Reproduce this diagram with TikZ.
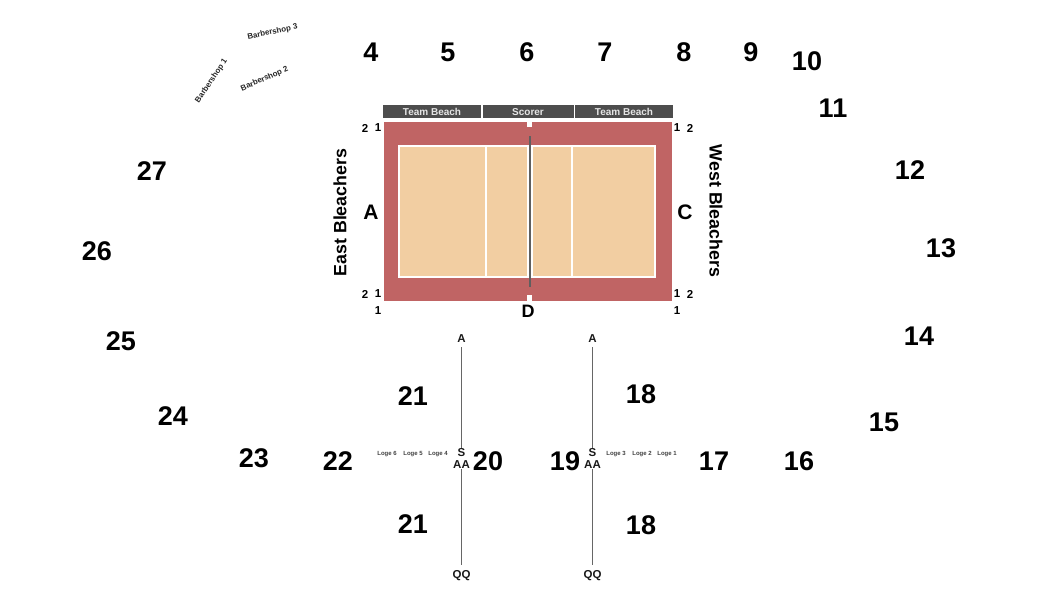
\documentclass[tikz,border=0pt]{standalone}
\usepackage{fontspec}
\setmainfont{Liberation Sans}
\usepackage{tikz}
\definecolor{courtred}{RGB}{192,100,100}
\definecolor{sandfill}{RGB}{242,206,162}
\definecolor{barfill}{RGB}{77,77,77}
\definecolor{netgray}{RGB}{95,95,95}
\tikzset{
  sec/.style={inner sep=0pt,font=\fontsize{27}{27}\bfseries},
  side/.style={inner sep=0pt,font=\fontsize{21}{21}\bfseries},
  row/.style={inner sep=0pt,font=\fontsize{11.5}{12}\bfseries},
  seat/.style={inner sep=0pt,font=\fontsize{11.5}{12}\bfseries,text=black!90},
  loge/.style={inner sep=0pt,font=\fontsize{6}{7}\bfseries,text=black!75},
  shop/.style={inner sep=0pt,font=\fontsize{7.9}{9}\bfseries,text=black!85},
  bar/.style={fill=barfill,text=white!90!black,inner sep=0pt,font=\fontsize{10}{10}\bfseries,minimum height=13pt,text height=7.5pt,text depth=0pt},
  bleach/.style={inner sep=0pt,font=\fontsize{17.8}{18}\bfseries},
  aisle/.style={draw=black!60,line width=0.8pt}
}
\begin{document}
\begin{tikzpicture}[x=1pt,y=-1pt]
\useasboundingbox (0,0) rectangle (1050,590);

% court
\fill[courtred] (384,122) rectangle (672,301);
\fill[white] (527,122) rectangle (532,127);
\fill[white] (527,295) rectangle (532,301);
\draw[white,line width=1.1pt,fill=sandfill] (399,146) rectangle (655,277);
\draw[white,line width=1.1pt] (486,146) -- (486,277);
\draw[white,line width=1.1pt] (572,146) -- (572,277);
\fill[white] (526.5,146) rectangle (532.5,277);
\draw[netgray,line width=2pt] (529.5,136) -- (529.5,287);

% bars along the top
\node[bar,minimum width=98pt] (barL) at (432,111.5) {Team Beach};
\node[bar,minimum width=91pt] (barM) at (528,111.5) {Scorer};
\node[bar,minimum width=98pt] (barR) at (624,111.5) {Team Beach};

% seat numbers at the corners
\foreach \nm/\tx/\px/\py in {a/2/365/128,b/1/378/128,c/1/677/128,d/2/690/128,
                             e/2/365/294,f/1/378/294,g/1/677/294,h/2/690/294,
                             i/1/378/311,j/1/677/311}
  \node[row] (seat\nm) at (\px,\py) {\tx};

\node[side] (sideA) at (371,212) {A};
\node[side] (sideC) at (685,212) {C};
\node[side,font=\fontsize{18}{18}\bfseries] (sideD) at (528,311) {D};

\node[bleach,rotate=90] (east) at (340,212.5) {East Bleachers};
\node[bleach,rotate=-90] (west) at (716,211) {West Bleachers};

% section numbers
\foreach \n/\px/\py in {4/371/52,5/448/52,6/527/52,7/605/52,8/684/52,9/751/52,
                        10/807/61,11/833/108,12/910/170,13/941/248,14/919/336,
                        15/884/422,16/799/461,17/714/461,19/565/461,20/488/461,
                        22/338/461,23/254/458,24/173/416,25/121/341,26/97/251,27/152/171}
  \node[sec] (sec\n) at (\px,\py) {\n};

\node[sec] (secA) at (641,394) {18};
\node[sec] (secB) at (641,525) {18};
\node[sec] (secC) at (413,396) {21};
\node[sec] (secD) at (413,524) {21};

% aisles
\node[seat] (aL) at (461.5,339) {A};
\node[seat] (sL) at (461.5,452.5) {S};
\node[seat] (aaL) at (461.5,465) {AA};
\node[seat] (qqL) at (461.5,576) {QQ};
\node[seat] (aR) at (592.5,339) {A};
\node[seat] (sR) at (592.5,452.5) {S};
\node[seat] (aaR) at (592.5,465) {AA};
\node[seat] (qqR) at (592.5,576) {QQ};

\draw[aisle,shorten <=2pt] (aL) ++(0,6) -- (sL.north);
\draw[aisle,shorten >=6pt] (aaL.south) -- (qqL.north);
\draw[aisle,shorten <=2pt] (aR) ++(0,6) -- (sR.north);
\draw[aisle,shorten >=6pt] (aaR.south) -- (qqR.north);

\node[loge] (logeF) at (387,454) {Loge 6};
\node[loge] (logeE) at (413,454) {Loge 5};
\node[loge] (logeD) at (438,454) {Loge 4};
\node[loge] (logeC) at (616,454) {Loge 3};
\node[loge] (logeB) at (642,454) {Loge 2};
\node[loge] (logeA) at (667,454) {Loge 1};

\node[shop,rotate=56] (shopA) at (211.5,81) {Barbershop 1};
\node[shop,rotate=24] (shopB) at (264.5,79) {Barbershop 2};
\node[shop,rotate=12] (shopC) at (272.5,32) {Barbershop 3};
\end{tikzpicture}
\end{document}
